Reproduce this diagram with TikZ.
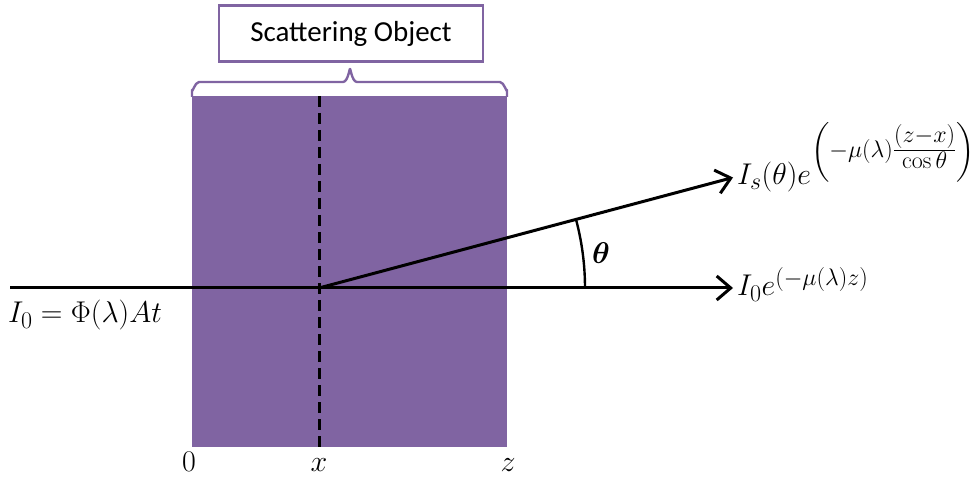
\RequirePackage{fix-cm}
\documentclass[tikz,border=0pt]{standalone}
\usepackage{amsmath}
\usepackage{bm}
\usepackage{fontspec}
\newfontfamily\calib{Carlito}
\usetikzlibrary{arrows.meta}
\DeclareMathSizes{30}{30}{24}{19}
\definecolor{objpurple}{RGB}{128,100,162}
\tikzset{
  ray/.style={line width=3pt,-{Straight Barb[length=14pt,width=24pt,line width=3pt]}},
  mathlbl/.style={inner sep=0pt,font=\fontsize{30}{36}\selectfont},
  titlebox/.style={draw=objpurple,line width=2.2pt,minimum width=264pt,minimum height=56pt,inner sep=0pt,fill=white,font=\calib\fontsize{29}{34}\selectfont}
}
\begin{document}
\begin{tikzpicture}[x=1pt,y=-1pt]
\useasboundingbox (0,0) rectangle (977,478);
% scattering object
\fill[objpurple] (192,96) rectangle (507,447);
\node[titlebox] (title) at (351,33.5) {Scattering Object};
% brace
\draw[objpurple,line width=2.4pt,line join=round]
  (192,97) -- (192,90) to[out=-90,in=180] (199,82) -- (343,82)
  to[out=0,in=90] (350,70) to[out=90,in=180] (357,82) -- (500,82)
  to[out=0,in=-90] (507,90) -- (507,97);
% dashed position line
\coordinate (xtop) at (319,96);
\coordinate (xbot) at (319,447);
\draw[line width=3pt,dash pattern=on 11pt off 6pt] (xtop) -- (xbot);
% rays
\coordinate (src) at (10,288);
\coordinate (o) at (319,288);
\coordinate (endt) at (733,288);
\coordinate (ends) at (733,177.5);
\draw[ray] (src) -- (endt);
\draw[ray] (o) -- (ends);
% angle
\draw[line width=2.4pt] (585,288) arc[start angle=0,end angle=-15.0,radius=266];
\node[mathlbl] (theta) at (601,253) {$\bm{\theta}$};
% labels
\node[mathlbl,anchor=base west] (i0) at (8,323) {$I_0=\Phi(\lambda)At$};
\node[mathlbl,anchor=base west] (itr) at (737,296) {$I_0e^{(-\mu(\lambda)z)}$};
\node[mathlbl,anchor=base west] (isc) at (737,185) {$I_s(\theta)e^{\left(-\mu(\lambda)\tfrac{(z-x)}{\cos\theta}\right)}$};
\node[mathlbl,anchor=base] (l0) at (189,471) {$0$};
\node[mathlbl,anchor=base] (lx) at (319,471) {$x$};
\node[mathlbl,anchor=base] (lz) at (508,471) {$z$};
\end{tikzpicture}
\end{document}
